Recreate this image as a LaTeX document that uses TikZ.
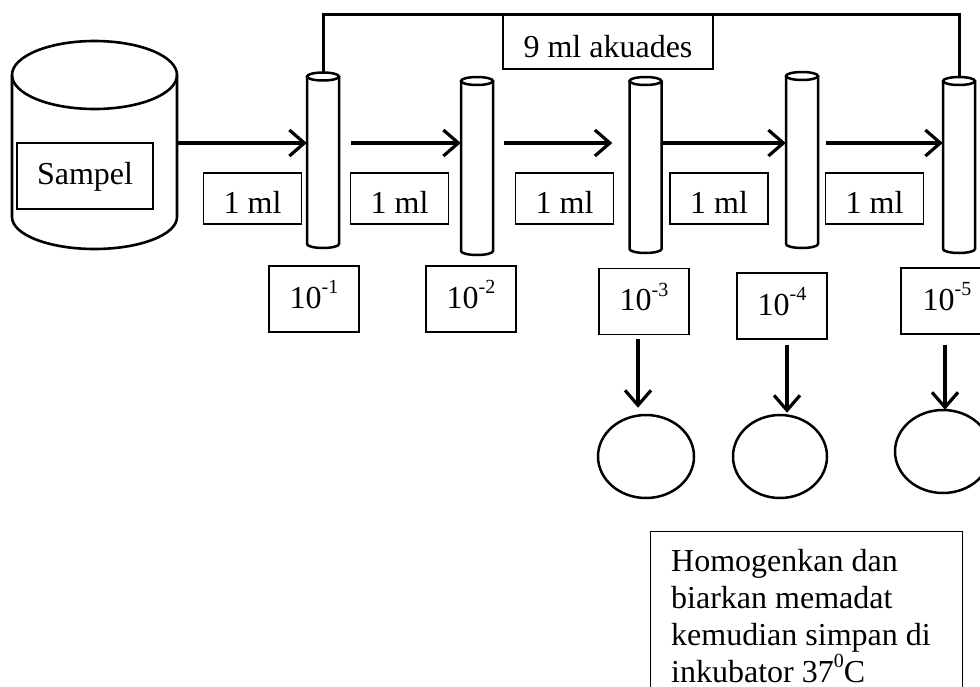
\documentclass[tikz,border=0pt]{standalone}
\usepackage{fontspec}
\setmainfont{Liberation Serif}
\usetikzlibrary{arrows.meta,shapes.geometric,calc}
\newcommand\expo[1]{\raisebox{0.45em}{\fontsize{20}{20}\selectfont #1}}
\newcommand\tubeat[4]{%
  \node[tubebox, minimum height={#4-#3+8}] (#1) at (#2,{(#3+#4)/2}) {};
  \draw[tubeline] (#2,#3) ellipse [x radius=16, y radius=4];
  \draw[tubeline] ({#2-16},#3) -- ({#2-16},#4) arc[start angle=180, end angle=0, x radius=16, y radius=4] -- ({#2+16},#3);
}
\tikzset{
  tubebox/.style={rectangle, minimum width=32pt, inner sep=0pt},
  tubeline/.style={line width=2.5pt},
  cyl/.style={line width=2.6pt},
  box/.style={draw, line width=1.2pt, fill=white, inner sep=0pt, font=\fontsize{32}{37}\selectfont, text depth=0pt},
  mlbox/.style={box, minimum width=98pt, minimum height=51pt, text height=29pt},
  expbox/.style={box, minimum width=90pt, minimum height=66pt, text height=18pt},
  arr/.style={line width=3.2pt, -{Straight Barb[length=15pt, width=26pt]}},
  plate/.style={ellipse, draw, line width=2.5pt, inner sep=0pt, minimum height=83pt},
  topline/.style={line width=3pt}
}
\begin{document}
\begin{tikzpicture}[x=1pt, y=-1pt]
\useasboundingbox (0,0) rectangle (980,686);
% sample container
\node[minimum width=165pt, minimum height=204pt, inner sep=0pt] (samp) at (94.5,143) {};
\draw[cyl] (94.5,75) ellipse [x radius=82.5, y radius=34];
\draw[cyl] (12,75) -- (12,217) arc[start angle=180, end angle=0, x radius=82.5, y radius=32] -- (177,75);
\node[box, minimum width=136pt, minimum height=66pt, text height=16pt] (sampel) at (85,176) {Sampel};
% tubes
\tubeat{t1}{323}{76.5}{244}
\tubeat{t2}{477}{81}{251}
\tubeat{t3}{645.5}{81}{249}
\tubeat{t4}{802}{76}{244}
\tubeat{t5}{959}{81}{249}
\coordinate (lvl) at (0,143);
\coordinate (topy) at (0,14);
% 9 ml box and top line
\node[box, minimum width=210pt, minimum height=54pt, text height=30pt] (aq) at (608,42) {9 ml akuades};
\draw[topline] (t1.north) -- (t1.north |- topy) -| (t5.north);
% arrows between tubes
\draw[arr] (samp.east |- lvl) -- (t1.west |- lvl);
\draw[arr] ([xshift=12pt]t1.east |- lvl) -- (t2.west |- lvl);
\draw[arr] ([xshift=11pt]t2.east |- lvl) -- ([xshift=-17pt]t3.west |- lvl);
\draw[arr] (t3.east |- lvl) -- (t4.west |- lvl);
\draw[arr] ([xshift=8pt]t4.east |- lvl) -- (t5.west |- lvl);
% 1 ml boxes
\node[mlbox] (m1) at (252.5,198.5) {1 ml};
\node[mlbox] (m2) at (399.5,198.5) {1 ml};
\node[mlbox] (m3) at (564.5,198.5) {1 ml};
\node[mlbox] (m4) at (719,198.5) {1 ml};
\node[mlbox] (m5) at (874.5,198.5) {1 ml};
% dilution boxes
\node[expbox] (e1) at (314,299) {10\expo{-1}};
\node[expbox] (e2) at (471,299) {10\expo{-2}};
\node[expbox] (e3) at (644,301.5) {10\expo{-3}};
\node[expbox] (e4) at (782,306) {10\expo{-4}};
\node[expbox, minimum width=92pt] (e5) at (947,301) {10\expo{-5}};
% plates
\node[plate, minimum width=96pt] (c1) at (646,456.5) {};
\node[plate, minimum width=94pt] (c2) at (780,456.5) {};
\node[plate, minimum width=96pt] (c3) at (943,451.5) {};
\draw[arr] ([shift={(-6,4)}]e3.south) -- ([shift={(-8,-6)}]c1.north);
\draw[arr] ([shift={(5,5)}]e4.south) -- ([shift={(7,-1)}]c2.north);
\draw[arr] ([shift={(-2,10)}]e5.south) -- ([shift={(2,1)}]c3.north);
% note
\node[draw, line width=1.2pt, inner sep=0pt, minimum width=312pt, minimum height=190pt, anchor=north west] (hb) at (650,531) {};
\node[anchor=base west, align=left, inner sep=0pt, font=\fontsize{32}{37}\selectfont] (ht) at (671,682) {Homogenkan dan\\biarkan memadat\\kemudian simpan di\\inkubator 37\expo{0}C};
\end{tikzpicture}
\end{document}
